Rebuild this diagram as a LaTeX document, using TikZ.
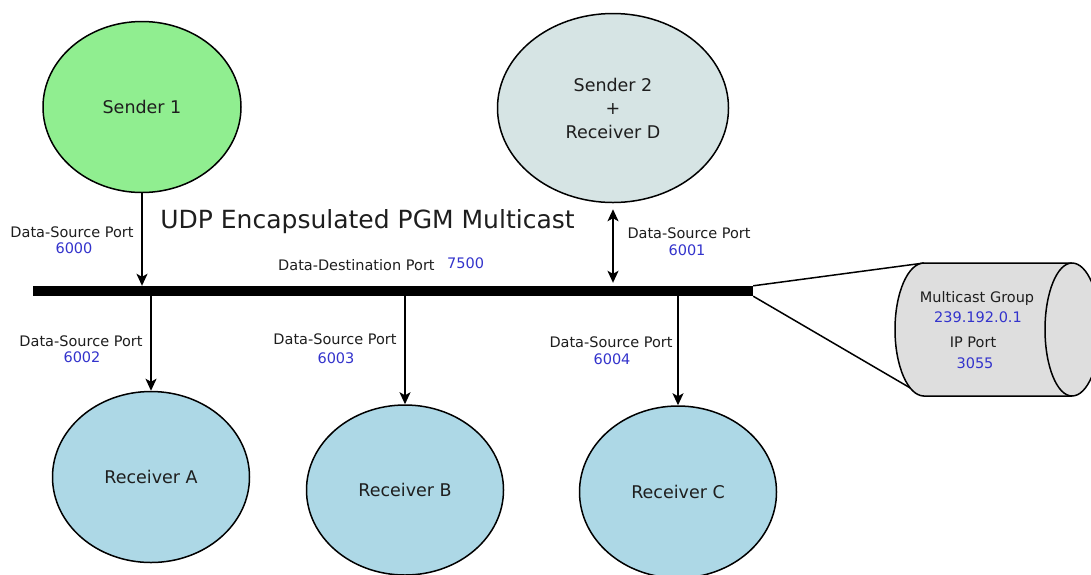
\documentclass[tikz,border=0pt]{standalone}
\usepackage{fontspec}
\setmainfont{DejaVu Sans}
\usetikzlibrary{shapes.geometric,arrows.meta}
\definecolor{txt}{HTML}{1E1E1E}
\definecolor{portblue}{RGB}{51,51,204}
\definecolor{sendgreen}{HTML}{90EE90}
\definecolor{sendgray}{HTML}{D6E4E4}
\definecolor{recblue}{HTML}{ADD8E6}
\definecolor{cylgray}{HTML}{DEDEDE}
\tikzset{
  hostnode/.style={ellipse, draw=black, line width=1.5pt, inner sep=0pt, text=txt,
    font=\fontsize{17.5}{23.5}\selectfont, align=center},
  lbl/.style={anchor=base, inner sep=0pt, text=txt, font=\fontsize{14.5}{17}\selectfont},
  num/.style={anchor=base, inner sep=0pt, text=portblue, font=\fontsize{14.5}{17}\selectfont},
  arr/.style={line width=1.6pt, -{Stealth[length=12pt,width=11pt,inset=3pt]}},
  darr/.style={line width=1.6pt, {Stealth[length=12pt,width=11pt,inset=3pt]}-{Stealth[length=12pt,width=11pt,inset=3pt]}},
  thin/.style={line width=1.5pt}
}
\begin{document}
\begin{tikzpicture}[x=1pt,y=-1pt]
\useasboundingbox (0,0) rectangle (1091,574);
\fill[white] (0,0) rectangle (1091,574);

% hosts
\node[hostnode, fill=sendgreen, minimum width=198pt, minimum height=171pt] (s1) at (142,107) {Sender 1};
\node[hostnode, fill=sendgray, minimum width=231pt, minimum height=189pt] (s2) at (613,108) {Sender 2\\+\\Receiver D};
\node[hostnode, fill=recblue, minimum width=197pt, minimum height=171pt] (ra) at (151,477) {Receiver A};
\node[hostnode, fill=recblue, minimum width=197pt, minimum height=170pt] (rb) at (405,490) {Receiver B};
\node[hostnode, fill=recblue, minimum width=197pt, minimum height=172pt] (rc) at (678,492) {Receiver C};

% bus
\node[rectangle, fill=black, inner sep=0pt, minimum width=720pt, minimum height=10pt] (bus) at (393,291) {};

% title
\node[anchor=base, inner sep=0pt, text=txt, font=\fontsize{25}{30}\selectfont] (title) at (367.5,228) {UDP Encapsulated PGM Multicast};

% connectors
\draw[arr] (s1) -- (s1 |- bus.north);
\draw[darr, shorten <=6pt, shorten >=3pt] (s2) -- (s2 |- bus.north);
\draw[arr] (ra |- bus.south) -- (ra);
\draw[arr] (rb |- bus.south) -- (rb);
\draw[arr] (rc |- bus.south) -- (rc);

% labels
\node[lbl] (l0) at (72,237) {Data-Source Port};
\node[num] (n0) at (74,253) {6000};
\node[lbl] (l1) at (689,238) {Data-Source Port};
\node[num] (n1) at (687,255) {6001};
\node[lbl] (l2) at (81,346) {Data-Source Port};
\node[num] (n2) at (82,362) {6002};
\node[lbl] (l3) at (335,344) {Data-Source Port};
\node[num] (n3) at (336,363) {6003};
\node[lbl] (l4) at (611,347) {Data-Source Port};
\node[num] (n4) at (612,364) {6004};
\node[lbl, anchor=base west] (ld) at (278,270) {Data-Destination Port};
\node[num, anchor=base west] (nd) at (447,268) {7500};

% multicast group cylinder
\coordinate (ctl) at (924,263);
\coordinate (ctr) at (1072,263);
\coordinate (cbr) at (1072,396);
\coordinate (cbl) at (924,396);
\draw[thin] (bus.north east) -- (ctl);
\draw[thin] (bus.south east) -- (cbl);
\filldraw[thin, fill=cylgray] (ctl) -- (ctr) arc[start angle=90, end angle=-90, x radius=28pt, y radius=66.5pt]
  -- (cbl) arc[start angle=270, end angle=90, x radius=29pt, y radius=66.5pt] -- cycle;
\draw[thin] (ctr) arc[start angle=90, end angle=270, x radius=27pt, y radius=66.5pt];

\node[lbl] (mg) at (977,302) {Multicast Group};
\node[num] (mga) at (978,322) {239.192.0.1};
\node[lbl] (ip) at (973,347) {IP Port};
\node[num] (ipn) at (975,368) {3055};
\end{tikzpicture}
\end{document}
